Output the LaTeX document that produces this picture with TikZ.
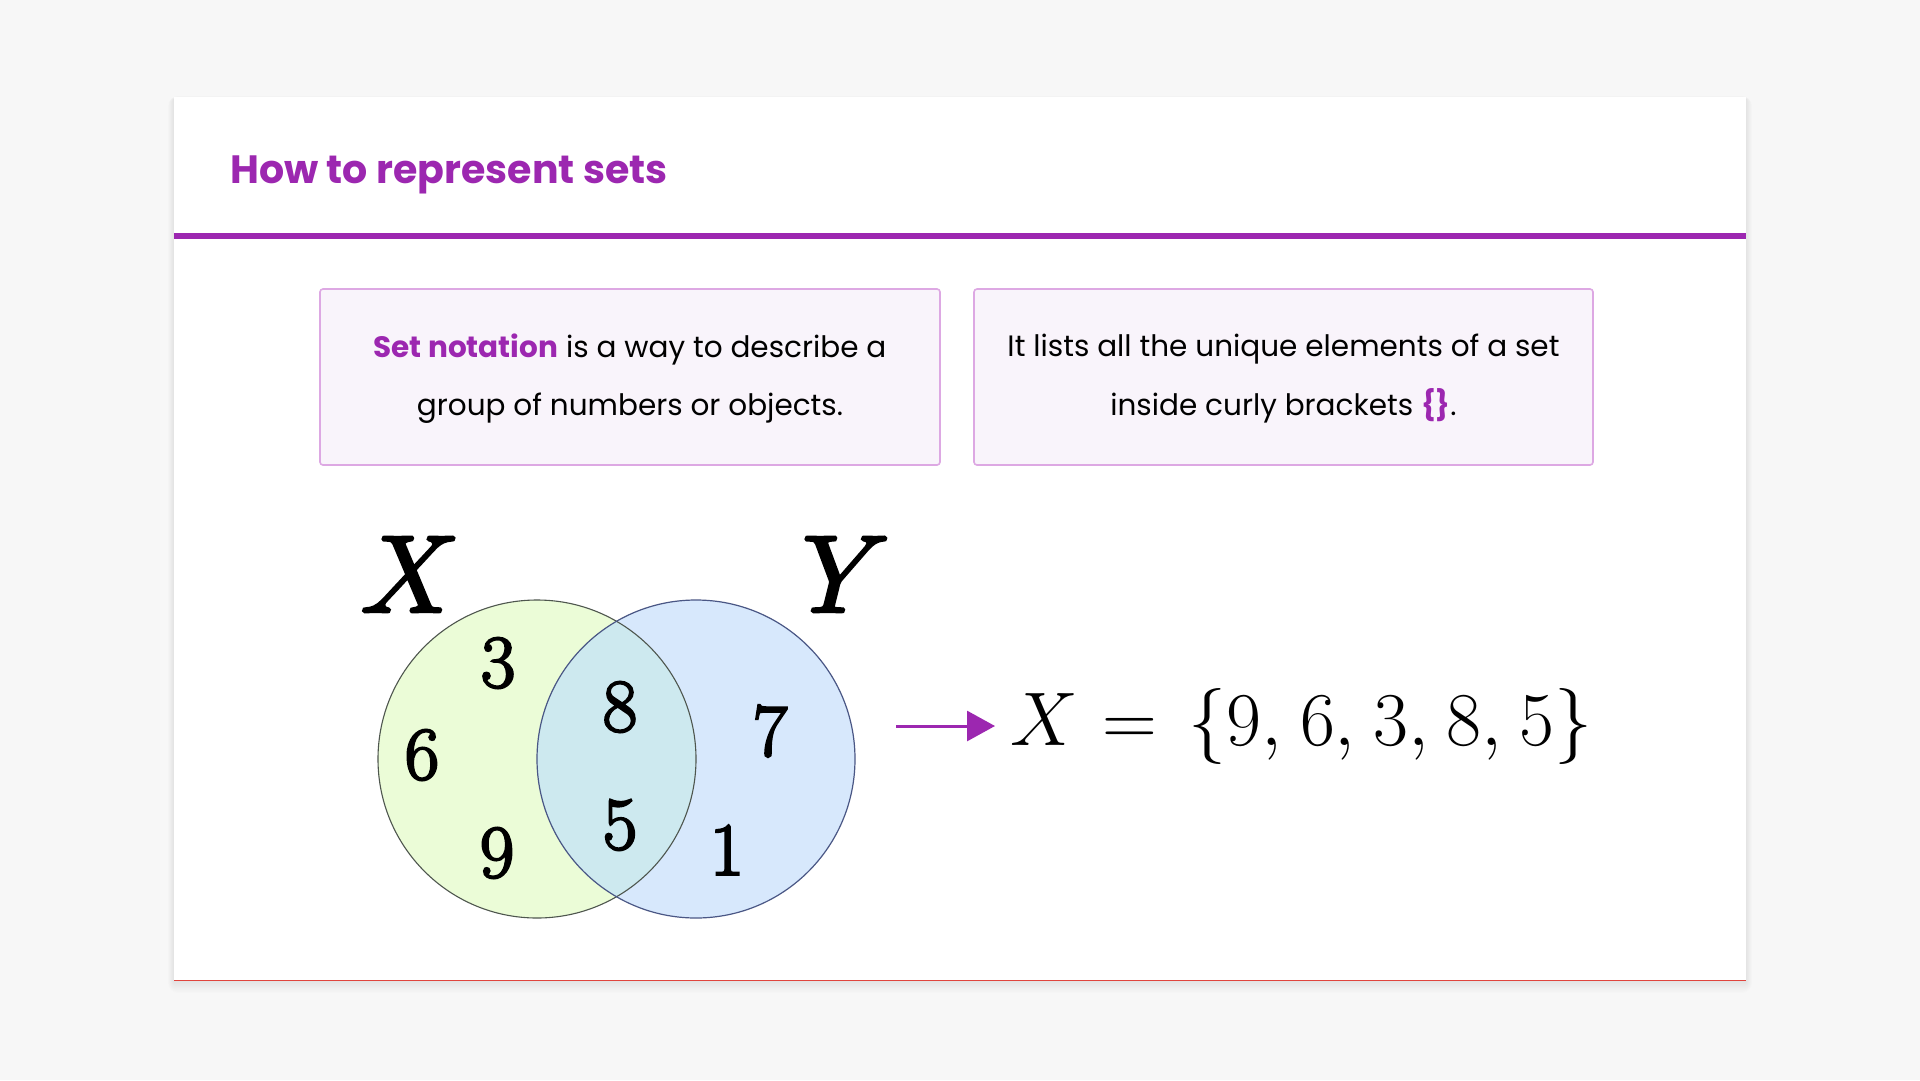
\RequirePackage{fix-cm}
\documentclass[tikz,border=0pt]{standalone}
\usepackage{amsmath}
\usepackage[no-math]{fontspec}
\setmainfont{Poppins}
\newfontfamily\vennfont{Latin Modern Roman}[FakeBold=3]
\newfontfamily\vennmath{latinmodern-math.otf}[FakeBold=2.5]
\usetikzlibrary{arrows.meta}
\definecolor{bg}{HTML}{F7F7F7}
\definecolor{accent}{HTML}{9C27B0}
\definecolor{boxborder}{HTML}{DDA8E3}
\definecolor{boxfill}{HTML}{F9F4FB}
\definecolor{limefill}{HTML}{EBFCD7}
\definecolor{bluefill}{HTML}{D7E8FC}
\definecolor{overlapfill}{HTML}{CDE9EF}
\definecolor{limeedge}{HTML}{4E564E}
\definecolor{blueedge}{HTML}{4A5785}
\definecolor{bottomline}{HTML}{E0443C}
\tikzset{
  infobox/.style={draw=boxborder, line width=1.6pt, fill=boxfill, rounded corners=3pt},
  bodytext/.style={inner sep=0pt, anchor=base, font=\fontsize{29.5}{35}\selectfont, text=black},
  digit/.style={inner sep=0pt, anchor=center, font=\fontsize{75}{90}\vennfont\selectfont},
  setlabel/.style={inner sep=0pt, anchor=base, font=\fontsize{110}{130}\vennmath\selectfont},
  arr/.style={draw=accent, line width=3pt, -{Triangle[length=28pt,width=30pt]}},
}
\begin{document}
\begin{tikzpicture}[x=1pt,y=-1pt]
\useasboundingbox (0,0) rectangle (1920,1080);
\fill[bg] (0,0) rectangle (1920,1080);
% card shadow and card
\foreach \i in {1,...,10}
  \fill[black, opacity=0.008, rounded corners=\i] (174-0.6*\i,97-0.3*\i+2) rectangle (1746+0.6*\i,981+1.2*\i);
\fill[white] (174,97) rectangle (1746,981);
\draw[bottomline, line width=1.2pt] (174,980.6) -- (1746,980.6);
% title
\node[inner sep=0pt, anchor=base west, text=accent, font=\fontsize{39.5}{47}\selectfont\bfseries] (title) at (230,183) {How to represent sets};
\fill[accent] (174,233) rectangle (1746,238.5);
% info boxes
\path[infobox] (320,289) rectangle (940,465);
\path[infobox] (974,289) rectangle (1593,465);
\node[bodytext] (b1l1) at (630,357) {{\bfseries\color{accent}Set notation} is a way to describe a};
\node[bodytext] (b1l2) at (630,415) {group of numbers or objects.};
\node[bodytext] (b2l1) at (1283.5,356) {It lists all the unique elements of a set};
\node[bodytext] (b2l2) at (1283.5,415) {inside curly brackets {\bfseries\color{accent}\{\}}.};
% venn
\fill[limefill] (537,759) circle[radius=159];
\fill[bluefill] (696,759) circle[radius=159];
\begin{scope}
  \clip (537,759) circle[radius=159];
  \fill[overlapfill] (696,759) circle[radius=159];
\end{scope}
\draw[limeedge, line width=1.1pt] (537,759) circle[radius=159];
\draw[blueedge, line width=1.2pt] (696,759) circle[radius=159];
\node[setlabel] (lx) at (406,612) {^^^^^^01d44b};
\node[setlabel] (ly) at (834,612) {^^^^^^01d44c};
\node[digit] (d3) at (498,663) {3};
\node[digit] (d8) at (620,707) {8};
\node[digit] (d6) at (422,755) {6};
\node[digit] (d7) at (770,731) {7};
\node[digit] (d5) at (620,825) {5};
\node[digit] (d9) at (497,853) {9};
\node[digit] (d1) at (727,850) {1};
% formula
\coordinate (arrowstart) at (896,726);
\node[inner sep=0pt, anchor=base west, font=\fontsize{76}{90}\selectfont] (formula) at (1010,745)
  {$X\mkern0.8mu=\mkern2.5mu\{9,\mkern1.2mu6,\mkern1.2mu3,\mkern1.2mu8,\mkern1.2mu5\}$};
\draw[arr, shorten >=15pt] (arrowstart) -- (arrowstart -| formula.west);
\end{tikzpicture}
\end{document}
